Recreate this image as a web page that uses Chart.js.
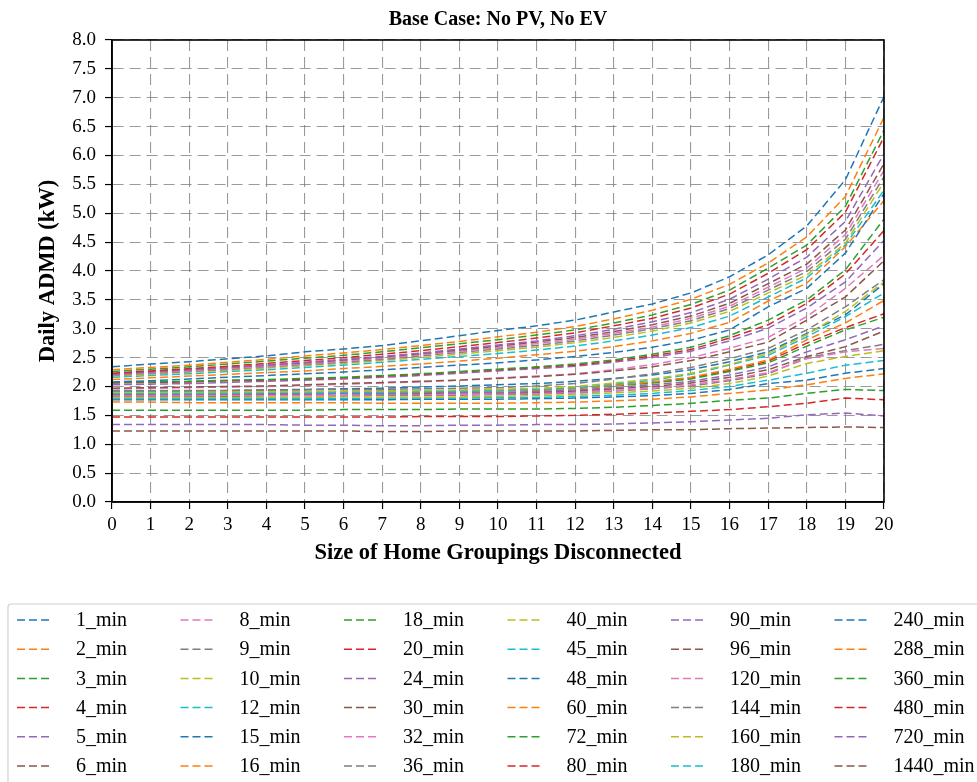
<!DOCTYPE html>
<html>
<head>
<meta charset="utf-8">
<script src="https://cdn.jsdelivr.net/npm/chart.js@4.4.1/dist/chart.umd.min.js"></script>
<style>
  html, body { margin: 0; padding: 0; background: #fff; }
  #wrap { width: 977px; height: 782px; overflow: hidden; }
</style>
</head>
<body>
<div id="wrap"><canvas id="myChart" width="977" height="782"></canvas></div>
<script>
// x: size of home groupings disconnected
const groupSizes = ['0','1','2','3','4','5','6','7','8','9','10','11','12','13','14','15','16','17','18','19','20'];

const seriesNames = ['1_min','2_min','3_min','4_min','5_min','6_min','8_min','9_min','10_min','12_min',
  '15_min','16_min','18_min','20_min','24_min','30_min','32_min','36_min','40_min','45_min',
  '48_min','60_min','72_min','80_min','90_min','96_min','120_min','144_min','160_min','180_min',
  '240_min','288_min','360_min','480_min','720_min','1440_min'];

// daily ADMD (kW)
const m1    = [2.34,2.39,2.43,2.48,2.53,2.60,2.65,2.71,2.79,2.88,2.97,3.05,3.15,3.29,3.43,3.62,3.90,4.28,4.78,5.58,7.02];
const m2    = [2.29,2.33,2.37,2.42,2.47,2.53,2.58,2.64,2.71,2.78,2.86,2.94,3.04,3.17,3.32,3.51,3.77,4.14,4.59,5.29,6.66];
const m3    = [2.26,2.30,2.34,2.39,2.44,2.49,2.54,2.60,2.67,2.74,2.81,2.89,2.98,3.10,3.24,3.42,3.67,4.05,4.45,5.12,6.44];
const m4    = [2.23,2.27,2.31,2.35,2.40,2.45,2.50,2.56,2.62,2.69,2.76,2.84,2.93,3.05,3.18,3.36,3.60,3.96,4.37,5.02,6.32];
const m5    = [2.21,2.25,2.29,2.33,2.37,2.42,2.47,2.52,2.58,2.65,2.72,2.79,2.88,2.99,3.12,3.28,3.51,3.86,4.24,4.86,6.03];
const m6    = [2.22,2.26,2.29,2.33,2.37,2.41,2.46,2.51,2.57,2.63,2.70,2.77,2.85,2.95,3.07,3.22,3.44,3.78,4.12,4.71,5.86];
const m8    = [2.20,2.24,2.27,2.31,2.35,2.39,2.44,2.49,2.55,2.61,2.67,2.74,2.82,2.92,3.03,3.18,3.39,3.72,4.05,4.63,5.74];
const m9    = [2.19,2.23,2.26,2.30,2.34,2.38,2.42,2.47,2.53,2.59,2.65,2.71,2.79,2.89,3.00,3.14,3.35,3.67,3.99,4.55,5.63];
const m10   = [2.18,2.21,2.25,2.28,2.32,2.36,2.40,2.45,2.50,2.56,2.62,2.68,2.76,2.85,2.96,3.10,3.30,3.62,3.93,4.48,5.54];
const m12   = [2.16,2.19,2.22,2.26,2.29,2.33,2.37,2.42,2.47,2.52,2.57,2.63,2.70,2.79,2.89,3.02,3.22,3.55,3.88,4.45,5.40];
const m15   = [2.08,2.10,2.13,2.16,2.19,2.22,2.25,2.29,2.33,2.37,2.41,2.46,2.52,2.59,2.68,2.80,2.98,3.38,3.70,4.31,5.34];
const m16   = [2.12,2.15,2.18,2.21,2.24,2.27,2.31,2.35,2.39,2.44,2.49,2.55,2.61,2.69,2.79,2.92,3.11,3.48,3.79,4.42,5.22];
const m18   = [2.07,2.08,2.09,2.11,2.12,2.14,2.16,2.19,2.22,2.26,2.30,2.34,2.39,2.46,2.56,2.68,2.88,3.15,3.50,4.02,4.90];
const m20   = [2.06,2.07,2.08,2.10,2.11,2.13,2.15,2.18,2.21,2.25,2.29,2.33,2.37,2.44,2.53,2.64,2.84,3.07,3.44,3.95,4.70];
const m24   = [2.03,2.04,2.05,2.07,2.09,2.11,2.13,2.16,2.19,2.23,2.27,2.31,2.35,2.42,2.50,2.61,2.79,3.01,3.36,3.81,4.53];
const m30   = [1.97,1.98,1.99,2.00,2.01,2.03,2.05,2.07,2.09,2.11,2.14,2.17,2.21,2.27,2.34,2.45,2.60,2.77,3.15,3.55,4.18];
const m32   = [1.96,1.97,1.98,1.99,2.00,2.02,2.04,2.06,2.08,2.11,2.15,2.18,2.22,2.29,2.38,2.50,2.66,2.85,3.21,3.70,4.27];
const m36   = [1.93,1.93,1.93,1.93,1.94,1.94,1.95,1.95,1.96,1.97,1.98,2.01,2.05,2.13,2.22,2.33,2.48,2.66,2.98,3.38,3.85];
const m40   = [1.90,1.90,1.90,1.91,1.91,1.91,1.92,1.92,1.93,1.94,1.95,1.97,2.00,2.06,2.13,2.23,2.38,2.57,2.90,3.30,3.81];
const m45   = [1.88,1.88,1.88,1.88,1.89,1.89,1.90,1.90,1.91,1.92,1.93,1.95,1.98,2.04,2.11,2.21,2.37,2.54,2.86,3.21,3.62];
const m48   = [1.91,1.92,1.92,1.93,1.94,1.95,1.96,1.97,1.99,2.01,2.03,2.05,2.09,2.14,2.20,2.29,2.43,2.60,2.92,3.24,3.78];
const m60   = [1.89,1.89,1.89,1.89,1.90,1.90,1.90,1.91,1.91,1.92,1.93,1.94,1.97,2.02,2.08,2.16,2.30,2.46,2.81,3.10,3.49];
const m72   = [1.90,1.90,1.90,1.90,1.91,1.91,1.91,1.92,1.92,1.92,1.93,1.94,1.97,2.01,2.06,2.13,2.26,2.41,2.70,2.98,3.20];
const m80   = [1.88,1.88,1.89,1.89,1.89,1.90,1.90,1.91,1.91,1.92,1.93,1.94,1.97,2.02,2.07,2.15,2.28,2.44,2.75,3.02,3.26];
const m90   = [1.86,1.86,1.86,1.87,1.87,1.87,1.88,1.88,1.89,1.89,1.90,1.91,1.94,1.98,2.03,2.09,2.20,2.34,2.60,2.81,3.05];
const m96   = [1.87,1.87,1.87,1.87,1.87,1.87,1.88,1.88,1.88,1.89,1.89,1.90,1.92,1.96,2.00,2.06,2.16,2.29,2.52,2.69,2.96];
const m120  = [1.84,1.84,1.84,1.85,1.85,1.85,1.85,1.86,1.86,1.86,1.87,1.88,1.90,1.93,1.97,2.03,2.12,2.24,2.48,2.60,2.66];
const m144  = [1.83,1.83,1.83,1.83,1.84,1.84,1.84,1.85,1.85,1.85,1.86,1.87,1.89,1.92,1.96,2.01,2.10,2.22,2.50,2.62,2.73];
const m160  = [1.81,1.81,1.81,1.81,1.81,1.81,1.82,1.82,1.82,1.82,1.83,1.84,1.86,1.89,1.92,1.97,2.05,2.18,2.40,2.52,2.62];
const m180  = [1.79,1.79,1.79,1.79,1.79,1.79,1.79,1.80,1.80,1.80,1.81,1.81,1.83,1.85,1.88,1.93,2.00,2.11,2.23,2.37,2.45];
const m240  = [1.77,1.77,1.77,1.77,1.77,1.77,1.77,1.77,1.78,1.78,1.78,1.79,1.80,1.82,1.84,1.88,1.95,2.05,2.11,2.23,2.31];
const m288  = [1.73,1.73,1.72,1.72,1.72,1.72,1.72,1.71,1.71,1.71,1.71,1.72,1.73,1.75,1.78,1.82,1.88,1.94,2.03,2.14,2.22];
const m360  = [1.59,1.59,1.59,1.59,1.59,1.59,1.60,1.60,1.60,1.61,1.61,1.61,1.62,1.64,1.67,1.71,1.76,1.80,1.88,1.95,1.93];
const m480  = [1.47,1.47,1.47,1.47,1.47,1.47,1.47,1.47,1.48,1.48,1.48,1.49,1.50,1.52,1.54,1.57,1.60,1.65,1.71,1.80,1.77];
const m720  = [1.34,1.34,1.34,1.34,1.34,1.33,1.33,1.32,1.32,1.33,1.33,1.34,1.34,1.35,1.37,1.39,1.42,1.45,1.51,1.54,1.49];
const m1440 = [1.23,1.23,1.23,1.23,1.23,1.23,1.23,1.22,1.22,1.23,1.23,1.23,1.23,1.24,1.25,1.25,1.27,1.28,1.29,1.30,1.29];

const seriesValues = [m1,m2,m3,m4,m5,m6,m8,m9,m10,m12,m15,m16,m18,m20,m24,m30,m32,m36,m40,m45,
  m48,m60,m72,m80,m90,m96,m120,m144,m160,m180,m240,m288,m360,m480,m720,m1440];

// matplotlib tab10 cycle
const tab10 = ['#1f77b4','#ff7f0e','#2ca02c','#d62728','#9467bd','#8c564b','#e377c2','#7f7f7f','#bcbd22','#17becf'];

const SERIF = "'Liberation Serif', 'Times New Roman', serif";
const lineDash = [8, 4];

const datasets = seriesNames.map((name, i) => ({
  label: name,
  data: seriesValues[i],
  borderColor: tab10[i % 10],
  backgroundColor: tab10[i % 10],
  borderWidth: 1.5,
  borderDash: lineDash,
  pointRadius: 0,
  fill: false,
  tension: 0
}));

// full box around the plot, like matplotlib spines
const frameBox = {
  id: 'frameBox',
  afterDatasetsDraw(chart) {
    const {ctx, chartArea: a} = chart;
    ctx.save();
    ctx.strokeStyle = '#000';
    ctx.lineWidth = 1.6;
    ctx.strokeRect(a.left, a.top, a.right - a.left, a.bottom - a.top);
    ctx.restore();
  }
};

// legend under the chart, 6 rows, filled column by column
const gridLegend = {
  id: 'gridLegend',
  afterDraw(chart) {
    const ctx = chart.ctx;
    ctx.save();
    ctx.fillStyle = 'rgba(255,255,255,0.9)';
    ctx.strokeStyle = '#d0d0d0';
    ctx.lineWidth = 1.2;
    ctx.beginPath();
    ctx.roundRect(8, 604, 1000, 200, 3);
    ctx.fill();
    ctx.stroke();
    ctx.font = '20px ' + SERIF;
    ctx.textBaseline = 'middle';
    ctx.fillStyle = '#000';
    chart.data.datasets.forEach((ds, i) => {
      const col = Math.floor(i / 6), row = i % 6;
      const x = 17 + col * 163.5;
      const y = 620 + row * 29.2;
      ctx.strokeStyle = ds.borderColor;
      ctx.lineWidth = 1.5;
      ctx.setLineDash(lineDash);
      ctx.beginPath();
      ctx.moveTo(x, y);
      ctx.lineTo(x + 36, y);
      ctx.stroke();
      ctx.setLineDash([]);
      ctx.fillText(ds.label, x + 59, y + 1);
    });
    ctx.restore();
  }
};

const ctx = document.getElementById('myChart').getContext('2d');
const myChart = new Chart(ctx, {
  type: 'line',
  data: { labels: groupSizes, datasets: datasets },
  options: {
    responsive: false,
    maintainAspectRatio: false,
    animation: false,
    layout: { padding: { left: 0, right: 93, top: 0, bottom: 210 } },
    plugins: {
      legend: { display: false },
      tooltip: { enabled: false },
      title: {
        display: true,
        fullSize: false,
        text: 'Base Case: No PV, No EV',
        color: '#000',
        font: { family: SERIF, size: 20, weight: 'bold', lineHeight: 1.2 },
        padding: { top: 8, bottom: 8 }
      }
    },
    scales: {
      x: {
        offset: false,
        afterFit(scale) { scale.height = 70; },
        grid: {
          color: 'rgba(120,120,120,0.75)',
          lineWidth: 1.1,
          tickColor: '#000',
          tickLength: 7,
          tickWidth: 1.2
        },
        border: { display: true, color: '#000', width: 1.6, dash: [11, 6] },
        ticks: {
          color: '#000',
          padding: 5,
          maxRotation: 0,
          autoSkip: false,
          font: { family: SERIF, size: 19 }
        },
        title: {
          display: true,
          text: 'Size of Home Groupings Disconnected',
          color: '#000',
          font: { family: SERIF, size: 22.5, weight: 'bold', lineHeight: 1.2 },
          padding: { top: 0, bottom: 5 }
        }
      },
      y: {
        min: 0,
        max: 8,
        afterFit(scale) { scale.width = 112; },
        grid: {
          color: 'rgba(120,120,120,0.75)',
          lineWidth: 1.1,
          tickColor: '#000',
          tickLength: 7,
          tickWidth: 1.2
        },
        border: { display: true, color: '#000', width: 1.6, dash: [11, 6] },
        ticks: {
          stepSize: 0.5,
          color: '#000',
          padding: 9,
          font: { family: SERIF, size: 19 },
          callback: (v) => Number(v).toFixed(1)
        },
        title: {
          display: true,
          text: 'Daily ADMD (kW)',
          color: '#000',
          font: { family: SERIF, size: 22.5, weight: 'bold', lineHeight: 1.2 },
          padding: { top: 35, bottom: 0 }
        }
      }
    }
  },
  plugins: [frameBox, gridLegend]
});
</script>
</body>
</html>
